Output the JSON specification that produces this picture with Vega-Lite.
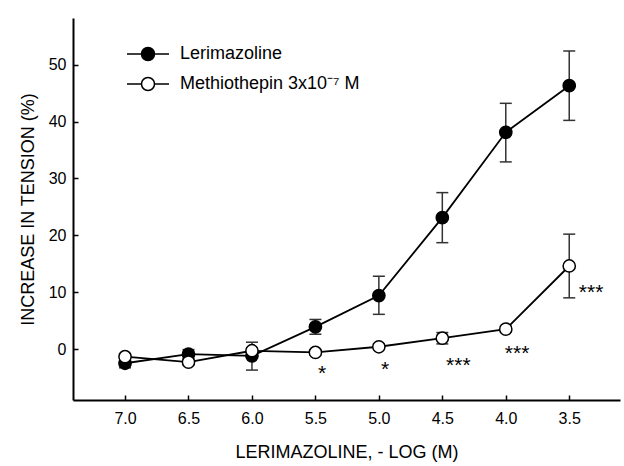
{
  "$schema": "https://vega.github.io/schema/vega-lite/v6.json",
  "width": 547,
  "height": 382,
  "autosize": "none",
  "padding": {"left": 73, "top": 18, "right": 4, "bottom": 66},
  "background": "white",
  "config": {
    "font": "Liberation Sans",
    "view": {"stroke": null},
    "axis": {
      "domainColor": "black",
      "domainWidth": 2,
      "tickColor": "black",
      "tickWidth": 1.5,
      "tickSize": -5,
      "grid": false,
      "labelFont": "Liberation Sans",
      "labelFontSize": 16,
      "labelColor": "black",
      "titleFont": "Liberation Sans",
      "titleFontSize": 18,
      "titleFontWeight": "normal",
      "titleColor": "black"
    }
  },
  "datasets": {
    "points": [
      {"series": "Lerimazoline", "logM": 7.0, "tension": -2.5, "lo": -3.3, "hi": -1.7},
      {"series": "Lerimazoline", "logM": 6.5, "tension": -0.9, "lo": -1.7, "hi": -0.1},
      {"series": "Lerimazoline", "logM": 6.0, "tension": -1.2, "lo": -3.7, "hi": 1.2},
      {"series": "Lerimazoline", "logM": 5.5, "tension": 3.9, "lo": 2.6, "hi": 5.2},
      {"series": "Lerimazoline", "logM": 5.0, "tension": 9.4, "lo": 6.1, "hi": 12.8},
      {"series": "Lerimazoline", "logM": 4.5, "tension": 23.1, "lo": 18.7, "hi": 27.5},
      {"series": "Lerimazoline", "logM": 4.0, "tension": 38.1, "lo": 32.9, "hi": 43.2},
      {"series": "Lerimazoline", "logM": 3.5, "tension": 46.3, "lo": 40.2, "hi": 52.4},
      {"series": "Methiothepin 3x10⁻⁷ M", "logM": 7.0, "tension": -1.35, "lo": -1.9, "hi": -0.8},
      {"series": "Methiothepin 3x10⁻⁷ M", "logM": 6.5, "tension": -2.3, "lo": -2.8, "hi": -1.8},
      {"series": "Methiothepin 3x10⁻⁷ M", "logM": 6.0, "tension": -0.3, "lo": -0.8, "hi": 0.2},
      {"series": "Methiothepin 3x10⁻⁷ M", "logM": 5.5, "tension": -0.6, "lo": -1.1, "hi": -0.1},
      {"series": "Methiothepin 3x10⁻⁷ M", "logM": 5.0, "tension": 0.4, "lo": -0.1, "hi": 0.9},
      {"series": "Methiothepin 3x10⁻⁷ M", "logM": 4.5, "tension": 1.9, "lo": 0.9, "hi": 2.9},
      {"series": "Methiothepin 3x10⁻⁷ M", "logM": 4.0, "tension": 3.5, "lo": 3.0, "hi": 4.0},
      {"series": "Methiothepin 3x10⁻⁷ M", "logM": 3.5, "tension": 14.6, "lo": 9.0, "hi": 20.2}
    ],
    "stars": [
      {"logM": 5.447, "tension": -3.3, "label": "*"},
      {"logM": 4.951, "tension": -2.7, "label": "*"},
      {"logM": 4.374, "tension": -1.93, "label": "***"},
      {"logM": 3.911, "tension": 0.1, "label": "***"},
      {"logM": 3.328, "tension": 10.95, "label": "***"}
    ]
  },
  "encoding": {
    "x": {
      "field": "logM",
      "type": "quantitative",
      "scale": {"domain": [7.41, 3.1], "nice": false, "zero": false},
      "axis": {
        "title": "LERIMAZOLINE, - LOG (M)",
        "values": [7.0, 6.5, 6.0, 5.5, 5.0, 4.5, 4.0, 3.5],
        "format": ".1f",
        "labelPadding": 15,
        "titlePadding": 17
      }
    },
    "y": {
      "field": "tension",
      "type": "quantitative",
      "scale": {"domain": [-8.96, 58.2], "nice": false, "zero": false},
      "axis": {
        "title": "INCREASE IN TENSION (%)",
        "values": [0, 10, 20, 30, 40, 50],
        "labelPadding": 12,
        "titlePadding": 11
      }
    }
  },
  "layer": [
    {
      "data": {"name": "points"},
      "mark": {"type": "rule", "color": "#333333", "strokeWidth": 1.5},
      "encoding": {
        "y": {"field": "lo", "type": "quantitative"},
        "y2": {"field": "hi"}
      }
    },
    {
      "data": {"name": "points"},
      "mark": {"type": "tick", "orient": "horizontal", "color": "#333333", "size": 12, "thickness": 1.5, "opacity": 1},
      "encoding": {
        "y": {"field": "lo", "type": "quantitative"}
      }
    },
    {
      "data": {"name": "points"},
      "mark": {"type": "tick", "orient": "horizontal", "color": "#333333", "size": 12, "thickness": 1.5, "opacity": 1},
      "encoding": {
        "y": {"field": "hi", "type": "quantitative"}
      }
    },
    {
      "data": {"name": "points"},
      "mark": {"type": "line", "color": "black", "strokeWidth": 1.8},
      "encoding": {
        "detail": {"field": "series", "type": "nominal"}
      }
    },
    {
      "data": {"name": "points"},
      "mark": {"type": "point", "shape": "circle", "filled": true, "stroke": "black", "strokeWidth": 1.5, "size": 150, "opacity": 1},
      "encoding": {
        "fill": {
          "field": "series",
          "type": "nominal",
          "scale": {"domain": ["Lerimazoline", "Methiothepin 3x10⁻⁷ M"], "range": ["black", "white"]},
          "legend": {
            "title": null,
            "orient": "none",
            "legendX": 66,
            "legendY": 27,
            "padding": 0,
            "symbolType": "M-3,0L-0.93,0M0.93,0L3,0M-0.93,0A0.93,0.93,0,1,1,0.93,0A0.93,0.93,0,1,1,-0.93,0Z",
            "symbolSize": 196,
            "symbolStrokeColor": "black",
            "symbolStrokeWidth": 1.5,
            "symbolOpacity": 1,
            "labelFont": "Liberation Sans",
            "labelFontSize": 18,
            "labelColor": "black",
            "labelOffset": 23,
            "rowPadding": 10,
            "labelLimit": 400
          }
        }
      }
    },
    {
      "data": {"name": "stars"},
      "mark": {"type": "text", "fontSize": 21, "align": "center", "baseline": "alphabetic", "dy": 12, "color": "black", "font": "Liberation Sans"},
      "encoding": {
        "text": {"field": "label", "type": "nominal"}
      }
    }
  ]
}
